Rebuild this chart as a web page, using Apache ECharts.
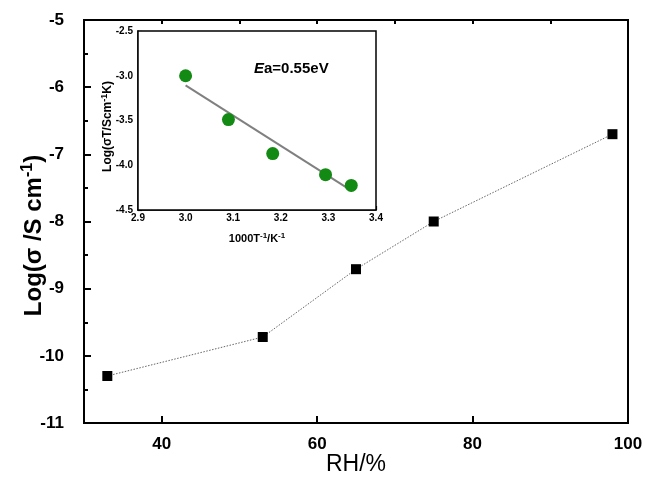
<!DOCTYPE html>
<html>
<head>
<meta charset="utf-8">
<script src="https://cdn.jsdelivr.net/npm/echarts@6/dist/echarts.min.js"></script>
<style>html,body{margin:0;padding:0;background:#fff;}#c{width:645px;height:489px;}</style>
</head>
<body>
<div id="c"></div>
<script>
// Main chart data
const rhX = [33, 53, 65, 75, 98];
const logSigma = [-10.3, -9.72, -8.71, -8.0, -6.7];
const mainXTicks = [40, 60, 80, 100];

// Inset data
const invT = [3.0, 3.09, 3.183, 3.294, 3.348];
const logSigmaT = [-3.0, -3.49, -3.87, -4.105, -4.225];
const fitX = [3.0, 3.35];
const fitY = [-3.107, -4.29];

const chart = echarts.init(document.getElementById('c'));
const FF = 'Liberation Sans, Arial, sans-serif';

const option = {
  backgroundColor: '#fff',
  animation: false,
  grid: [
    {left: 84, top: 20, right: 17, bottom: 66, show: true, borderColor: '#000', borderWidth: 2, backgroundColor: 'transparent', z: 0, outerBoundsMode: 'none', containLabel: false},
    {left: 138, top: 31, width: 238, height: 179, show: true, borderColor: '#000', borderWidth: 1.5, backgroundColor: '#fff', z: 5, outerBoundsMode: 'none', containLabel: false}
  ],
  xAxis: [
    {
      type: 'value', gridIndex: 0, min: 30, max: 100,
      axisLine: {show: true, onZero: false, lineStyle: {color: '#000', width: 2}},
      axisTick: {show: true, inside: true, length: 7, lineStyle: {color: '#000', width: 2}, customValues: mainXTicks},
      axisLabel: {show: true, margin: 13, color: '#000', fontFamily: FF, fontWeight: 'bold', fontSize: 17, customValues: mainXTicks},
      splitLine: {show: false},
      name: 'RH/%', nameLocation: 'middle', nameGap: 30, nameMoveOverlap: false,
      nameTextStyle: {color: '#000', fontFamily: FF, fontSize: 23}
    },
    {
      type: 'value', gridIndex: 0, min: 30, max: 100, interval: 10,
      axisLine: {show: false},
      axisTick: {show: true, inside: true, length: 4, lineStyle: {color: '#000', width: 2}},
      axisLabel: {show: false},
      splitLine: {show: false}
    },
    {
      type: 'value', gridIndex: 1, min: 2.9, max: 3.4, interval: 0.1,
      axisLine: {show: true, onZero: false, lineStyle: {color: '#000', width: 1.5}},
      axisTick: {show: true, inside: true, length: 4, lineStyle: {color: '#000', width: 1.2}},
      minorTick: {show: true, splitNumber: 2, length: 3, lineStyle: {color: '#000', width: 1}},
      axisLabel: {show: true, margin: 3, color: '#000', fontFamily: FF, fontWeight: 'bold', fontSize: 10,
        formatter: v => v.toFixed(1)},
      splitLine: {show: false},
      name: '1000T{sup|-1}/K{sup|-1}', nameLocation: 'middle', nameGap: 22, nameMoveOverlap: false,
      nameTextStyle: {color: '#000', fontFamily: FF, fontWeight: 'bold', fontSize: 11,
        rich: {sup: {fontSize: 8, fontWeight: 'bold', fontFamily: FF, padding: [0, 0, 6, 0]}}}
    }
  ],
  yAxis: [
    {
      type: 'value', gridIndex: 0, min: -11, max: -5, interval: 1,
      axisLine: {show: true, onZero: false, lineStyle: {color: '#000', width: 2}},
      axisTick: {show: true, inside: true, length: 7, lineStyle: {color: '#000', width: 2}},
      minorTick: {show: true, splitNumber: 2, length: 4, lineStyle: {color: '#000', width: 2}},
      axisLabel: {show: true, margin: 20, color: '#000', fontFamily: FF, fontWeight: 'bold', fontSize: 17},
      splitLine: {show: false},
      name: 'Log(σ /S cm{sup|-1})', nameLocation: 'middle', nameGap: 36, nameMoveOverlap: false,
      nameTextStyle: {color: '#000', fontFamily: FF, fontWeight: 'bold', fontSize: 24, padding: [0, 28, 0, 0],
        rich: {sup: {fontSize: 16, fontWeight: 'bold', fontFamily: FF, padding: [0, 0, 12, 0]}}}
    },
    {
      type: 'value', gridIndex: 1, min: -4.5, max: -2.5, interval: 0.5,
      axisLine: {show: true, onZero: false, lineStyle: {color: '#000', width: 1.5}},
      axisTick: {show: true, inside: true, length: 4, lineStyle: {color: '#000', width: 1.2}},
      minorTick: {show: true, splitNumber: 2, length: 3, lineStyle: {color: '#000', width: 1}},
      axisLabel: {show: true, margin: 5, color: '#000', fontFamily: FF, fontWeight: 'bold', fontSize: 10,
        formatter: v => v.toFixed(1)},
      splitLine: {show: false},
      name: 'Log(σT/Scm{sup|-1}K)', nameLocation: 'middle', nameGap: 23, nameMoveOverlap: false,
      nameTextStyle: {color: '#000', fontFamily: FF, fontWeight: 'bold', fontSize: 12, padding: [0, 12, 0, 0],
        rich: {sup: {fontSize: 9, fontWeight: 'bold', fontFamily: FF, padding: [0, 0, 6, 0]}}}
    }
  ],
  series: [
    {
      type: 'line', xAxisIndex: 0, yAxisIndex: 0,
      data: rhX.map((x, i) => [x, logSigma[i]]),
      symbol: 'rect', symbolSize: 10,
      itemStyle: {color: '#000'},
      lineStyle: {color: '#666', width: 1, type: [1.5, 1.5]},
      z: 2
    },
    {
      type: 'line', xAxisIndex: 2, yAxisIndex: 1,
      data: fitX.map((x, i) => [x, fitY[i]]),
      symbol: 'none',
      lineStyle: {color: '#808080', width: 2},
      z: 6
    },
    {
      type: 'scatter', xAxisIndex: 2, yAxisIndex: 1,
      data: invT.map((x, i) => [x, logSigmaT[i]]),
      symbol: 'circle', symbolSize: 13,
      itemStyle: {color: '#138a13', opacity: 1},
      z: 7
    }
  ],
  graphic: [
    {
      type: 'text', left: 254, top: 61, z: 10,
      style: {
        text: '{i|E}{n|a=0.55eV}',
        rich: {
          i: {fontFamily: FF, fontWeight: 'bold', fontStyle: 'italic', fontSize: 15, fill: '#000'},
          n: {fontFamily: FF, fontWeight: 'bold', fontSize: 15, fill: '#000'}
        }
      }
    }
  ]
};
chart.setOption(option);
</script>
</body>
</html>
